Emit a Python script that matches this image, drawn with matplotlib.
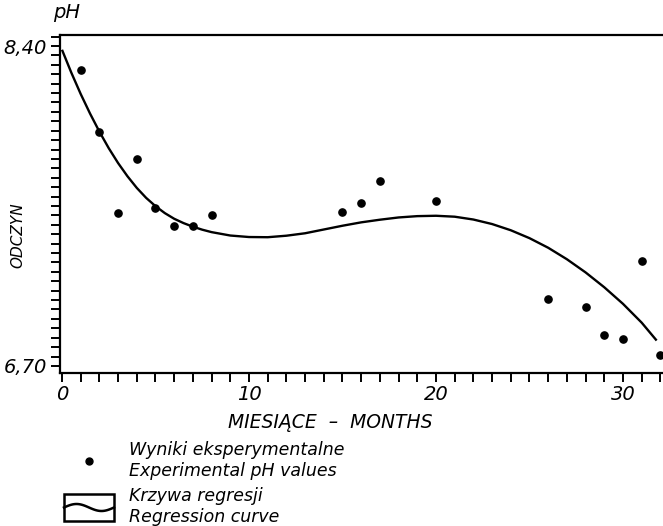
import numpy as np
import matplotlib.pyplot as plt
from matplotlib.ticker import MultipleLocator, FixedLocator, FixedFormatter
from matplotlib.patches import Rectangle

# punkty pomiarowe (miesiace, pH)
miesiace = [1, 2, 3, 4, 5, 6, 7, 8, 15, 16, 17, 20, 26, 28, 29, 30, 31, 32]
ph = [8.27, 7.945, 7.515, 7.80, 7.54, 7.445, 7.445, 7.50, 7.52, 7.565,
      7.685, 7.575, 7.055, 7.015, 6.865, 6.845, 7.255, 6.76]

# krzywa regresji
krzywa_x = [0, 0.5, 1, 1.5, 2, 2.5, 3, 3.5, 4, 4.5, 5, 5.5, 6, 6.5, 7, 7.5, 8, 9,
            10, 11, 12, 13, 14, 15, 16, 17, 18, 19, 20, 21, 22, 23, 24, 25, 26,
            27, 28, 29, 30, 31, 31.8]
krzywa_y = [8.38, 8.258, 8.145, 8.041, 7.945, 7.857, 7.778, 7.708, 7.646, 7.593,
            7.549, 7.512, 7.482, 7.459, 7.440, 7.424, 7.411, 7.393,
            7.385, 7.384, 7.392, 7.405, 7.425, 7.445, 7.463, 7.477, 7.489, 7.496,
            7.498, 7.493, 7.478, 7.454, 7.421, 7.379, 7.328, 7.267, 7.197, 7.118,
            7.030, 6.930, 6.835]

y_ticks = [6.70, 8.40]
y_labels = ['6,70', '8,40']
x_ticks = [0, 10, 20, 30]
x_labels = ['0', '10', '20', '30']

W, H = 663, 526
fig = plt.figure(figsize=(W / 100, H / 100), dpi=100)
ax = fig.add_axes([60 / W, 153 / H, 603 / W, 338 / H])

ax.plot(krzywa_x, krzywa_y, color='black', lw=1.7, solid_capstyle='butt',
        solid_joinstyle='round')
ax.plot(miesiace, ph, 'o', color='black', ms=5.2, clip_on=False)

ax.set_xlim(-0.107, 32.14)
ax.set_ylim(6.6625, 8.4585)

for s in ['left', 'bottom', 'top']:
    ax.spines[s].set_linewidth(1.6)
ax.spines['right'].set_visible(False)

ax.yaxis.set_major_locator(FixedLocator(y_ticks))
ax.yaxis.set_major_formatter(FixedFormatter(y_labels))
ax.yaxis.set_minor_locator(MultipleLocator(0.05))
ax.xaxis.set_major_locator(FixedLocator(x_ticks))
ax.xaxis.set_major_formatter(FixedFormatter(x_labels))
ax.xaxis.set_minor_locator(MultipleLocator(1))

ax.tick_params(which='both', direction='out', width=1.4, length=6.5, color='black')
ax.tick_params(axis='y', which='major', pad=3, labelsize=14)
ax.tick_params(axis='x', which='major', pad=2, labelsize=14)
for t in ax.get_xticklabels() + ax.get_yticklabels():
    t.set_fontstyle('italic')

fig.text(67 / W, 1 - 12 / H, 'pH', ha='center', va='center', fontsize=14, style='italic')
fig.text(18 / W, 1 - 235 / H, 'ODCZYN', ha='center', va='center', rotation=90,
         fontsize=11, style='italic')
fig.text(330 / W, 1 - 422 / H, 'MIESIĄCE  –  MONTHS', ha='center', va='center',
         fontsize=13.5, style='italic')

# legenda rysowana w pikselach
lg = fig.add_axes([0, 0, 1, 1], zorder=-1)
lg.set_xlim(0, W)
lg.set_ylim(H, 0)
lg.axis('off')
lg.plot([88.5], [461], 'o', color='black', ms=5)
lg.add_patch(Rectangle((64, 494), 50, 26.5, fill=False, lw=1.8, ec='black'))
fal_t = np.linspace(0, 1, 60)
lg.plot(64 + 50 * fal_t, 507.5 - 3.5 * np.sin(2 * np.pi * fal_t), color='black', lw=1.8)

kw = dict(fontsize=12.5, style='italic', va='center', ha='left')
lg.text(129, 450, 'Wyniki eksperymentalne', **kw)
lg.text(129, 471, 'Experimental pH values', **kw)
lg.text(129, 496, 'Krzywa regresji', **kw)
lg.text(129, 517, 'Regression curve', **kw)

fig.savefig('out.png', dpi=100)
